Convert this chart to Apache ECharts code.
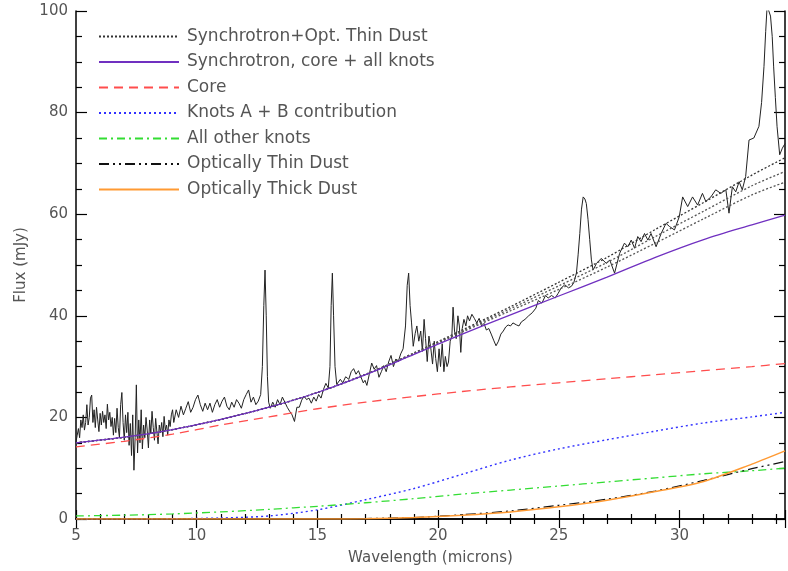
<!DOCTYPE html>
<html><head><meta charset="utf-8">
<script src="https://cdn.jsdelivr.net/npm/echarts@6/dist/echarts.min.js"></script>
<style>html,body{margin:0;padding:0;background:#fff}#c{width:788px;height:571px}</style>
</head><body><div id="c"></div>
<script>
// ---- data ----
const xTicks = [5, 10, 15, 20, 25, 30];
const yTicks = [0, 20, 40, 60, 80, 100];
const legendNames = ['Synchrotron+Opt. Thin Dust', 'Synchrotron, core + all knots', 'Core',
  'Knots A + B contribution', 'All other knots', 'Optically Thin Dust', 'Optically Thick Dust'];

const modelWl      = [5, 7, 9, 11, 13, 15, 17, 19, 21, 23, 25, 27, 29, 31, 33, 34.37];
const syncThinA    = [15.0, 16.1, 17.6, 19.6, 22.0, 24.9, 28.5, 32.7, 37.2, 41.8, 46.6, 51.5, 57.0, 62.3, 67.7, 71.1];
const syncThinB    = [15.0, 16.1, 17.6, 19.6, 22.0, 24.9, 28.5, 32.6, 37.0, 41.4, 45.9, 50.5, 55.6, 60.6, 65.6, 68.4];
const syncThinC    = [15.0, 16.1, 17.6, 19.6, 22.0, 24.9, 28.4, 32.5, 36.8, 41.0, 45.2, 49.6, 54.3, 59.1, 63.8, 66.3];
const syncAll      = [15.0, 16.1, 17.6, 19.6, 22.0, 24.9, 28.4, 32.4, 36.4, 40.2, 43.9, 47.6, 51.5, 55.0, 57.9, 59.8];
const core         = [14.2, 15.3, 16.7, 18.5, 20.1, 21.7, 23.0, 24.1, 25.1, 26.0, 26.8, 27.6, 28.4, 29.2, 30.0, 30.6];
const knotsAB      = [0.0, 0.0, 0.05, 0.2, 0.6, 1.8, 3.8, 6.0, 8.8, 11.6, 13.8, 15.6, 17.3, 18.9, 20.1, 21.0];
const otherKnots   = [0.6, 0.75, 1.0, 1.4, 1.9, 2.5, 3.2, 4.0, 4.9, 5.7, 6.5, 7.3, 8.1, 8.9, 9.5, 10.0];
const thinDust     = [0.0, 0.0, 0.0, 0.0, 0.0, 0.0, 0.1, 0.3, 0.85, 1.6, 2.7, 3.9, 5.5, 7.6, 9.9, 11.3];
const thickDust    = [0.0, 0.0, 0.0, 0.0, 0.0, 0.0, 0.05, 0.3, 0.75, 1.4, 2.4, 3.7, 5.4, 7.4, 10.8, 13.4];

const spectrumSL = [
 [5.00,15.2],[5.05,16.5],[5.10,17.8],[5.15,16.0],[5.20,19.5],[5.25,18.0],[5.30,20.5],[5.35,17.5],[5.40,19.0],[5.45,22.5],
 [5.50,18.5],[5.55,20.0],[5.60,23.8],[5.65,24.4],[5.70,19.0],[5.75,21.5],[5.80,18.0],[5.85,22.0],[5.90,19.5],[5.95,17.2],
 [6.00,20.8],[6.05,18.5],[6.10,21.2],[6.15,19.0],[6.20,20.5],[6.25,17.8],[6.30,22.6],[6.35,19.5],[6.40,21.0],[6.45,18.2],
 [6.50,20.0],[6.55,16.5],[6.60,19.8],[6.65,17.0],[6.70,21.8],[6.75,18.0],[6.80,16.0],[6.85,22.5],[6.90,24.9],[6.95,19.0],
 [7.00,15.5],[7.05,20.5],[7.10,17.0],[7.15,21.0],[7.20,14.5],[7.25,18.8],[7.30,12.5],[7.35,20.5],[7.40,9.6],[7.45,16.0],
 [7.50,26.4],[7.55,13.0],[7.60,19.5],[7.65,15.0],[7.70,21.5],[7.75,13.8],[7.80,18.5],[7.85,16.0],[7.90,20.0],[7.95,17.5],
 [8.00,14.0],[8.05,19.5],[8.10,16.8],[8.15,21.2],[8.20,18.0],[8.25,15.5],[8.30,19.8],[8.35,17.2],[8.40,14.8],[8.45,18.5],
 [8.50,17.0],[8.55,19.0],[8.60,16.2],[8.65,20.2],[8.70,17.5],[8.75,18.5],[8.80,16.5],[8.85,19.5],[8.90,18.2],[8.95,20.5],
 [9.00,21.5],[9.05,19.0],[9.15,21.5],[9.25,20.0],[9.35,22.2],[9.45,20.5],[9.55,21.8],[9.65,23.1],[9.75,21.0],[9.85,22.0],
 [9.95,23.5],[10.05,24.4],[10.15,22.5],[10.25,21.2],[10.35,22.8],[10.45,21.5],[10.55,22.8],[10.65,21.0],[10.75,22.5],[10.85,23.5],
 [10.95,22.0],[11.05,23.2],[11.15,24.0],[11.25,22.2],[11.35,21.5],[11.45,23.0],[11.55,22.0],[11.65,23.5],[11.75,22.8],[11.85,21.8],
 [11.95,23.5],[12.05,24.5],[12.15,25.4],[12.25,23.0],[12.35,24.0],[12.45,22.5],[12.55,23.2],[12.65,24.5],[12.72,30.0],[12.78,42.0],
 [12.83,49.0],[12.88,40.0],[12.93,28.0],[12.98,23.0],[13.05,21.8],[13.15,23.0],[13.25,22.0],[13.35,23.5],[13.45,22.5],[13.55,24.0],
 [13.65,23.0],[13.75,22.0],[13.85,21.2],[13.95,20.5],[14.05,19.2],[14.15,22.0]
];
const spectrumLL = [
 [14.25,22.0],[14.35,23.4],[14.45,24.2],[14.55,23.5],[14.65,23.8],[14.75,22.8],[14.85,24.0],[14.95,23.2],[15.05,24.5],[15.15,23.8],
 [15.25,25.5],[15.35,26.7],[15.45,25.8],[15.52,30.0],[15.57,42.0],[15.62,48.4],[15.67,40.0],[15.73,30.0],[15.80,26.5],[15.87,26.7],
 [15.95,27.5],[16.05,26.8],[16.17,28.0],[16.30,27.5],[16.40,29.0],[16.50,29.6],[16.60,28.5],[16.70,29.2],[16.80,28.0],[16.90,26.8],
 [16.97,27.3],[17.05,26.3],[17.15,28.5],[17.25,30.7],[17.35,29.5],[17.45,30.2],[17.55,27.9],[17.65,29.0],[17.75,30.2],[17.85,29.0],
 [17.95,30.9],[18.05,32.2],[18.15,30.0],[18.25,31.5],[18.35,31.0],[18.45,32.5],[18.55,33.5],[18.65,38.0],[18.72,46.0],[18.78,48.4],
 [18.84,42.0],[18.90,38.6],[18.97,34.0],[19.05,36.5],[19.12,38.0],[19.20,35.0],[19.28,37.0],[19.35,33.0],[19.42,39.3],[19.48,35.5],
 [19.55,31.0],[19.62,36.0],[19.70,33.5],[19.77,30.5],[19.84,35.0],[19.90,31.6],[19.97,29.0],[20.04,33.5],[20.10,30.0],[20.17,34.5],
 [20.24,29.0],[20.30,32.0],[20.37,30.0],[20.43,30.9],[20.50,35.0],[20.57,36.1],[20.62,41.7],[20.68,37.0],[20.75,35.5],[20.82,40.0],
 [20.88,38.0],[20.94,32.8],[21.00,37.5],[21.07,39.3],[21.15,38.0],[21.22,40.0],[21.30,39.0],[21.40,40.3],[21.50,39.5],[21.60,38.6],
 [21.70,39.5],[21.80,38.0],[21.90,38.5],[22.00,37.2],[22.10,37.5],[22.20,36.4],[22.30,35.2],[22.40,34.1],[22.50,35.0],[22.60,36.4],
 [22.70,37.0],[22.80,37.8],[22.90,38.2],[23.00,38.0],[23.10,38.6],[23.25,38.2],[23.35,38.0],[23.45,38.8],[23.60,39.3],[23.75,40.0],
 [23.90,40.6],[24.05,41.5],[24.15,43.0],[24.30,42.5],[24.45,44.0],[24.56,43.5],[24.70,44.0],[24.85,43.5],[24.97,44.4],[25.10,45.5],
 [25.25,46.1],[25.40,45.5],[25.52,45.8],[25.62,46.5],[25.73,48.4],[25.80,52.0],[25.87,56.2],[25.94,61.0],[26.01,63.4],[26.08,63.0],
 [26.14,62.1],[26.21,59.0],[26.28,55.0],[26.35,51.0],[26.42,49.0],[26.56,50.3],[26.76,51.3],[26.97,50.3],[27.11,51.0],[27.31,48.4],
 [27.52,52.3],[27.72,54.3],[27.86,53.6],[28.00,54.9],[28.14,53.3],[28.27,55.6],[28.41,54.6],[28.55,56.2],[28.69,54.9],[28.82,56.2],
 [29.03,53.6],[29.24,56.2],[29.44,58.2],[29.58,57.6],[29.79,56.9],[29.99,59.5],[30.13,63.4],[30.34,61.5],[30.54,63.4],[30.75,61.8],
 [30.95,64.1],[31.09,62.5],[31.30,63.4],[31.50,64.8],[31.71,64.1],[31.92,64.8],[32.05,60.2],[32.19,65.4],[32.33,64.4],[32.47,66.4],
 [32.60,64.8],[32.74,67.4],[32.88,74.6],[33.08,75.0],[33.29,77.3],[33.40,82.0],[33.50,89.1],[33.57,96.0],[33.63,101.0],[33.70,101.0],
 [33.77,99.0],[33.84,95.0],[33.90,89.0],[33.97,83.0],[34.04,77.3],[34.15,71.7],[34.26,73.0],[34.37,73.9]
];

// ---- chart ----
const textColor = '#555';
const font = 'DejaVu Sans';
const pairs = arr => modelWl.map((w, i) => [w, arr[i]]);

function lineSeries(name, arr, color, type, width) {
  return {
    name: name, type: 'line', data: pairs(arr), symbol: 'none', smooth: 0.3,
    clip: true, lineStyle: { color: color, width: width || 1.2, type: type }, itemStyle: { color: color },
    emphasis: { disabled: true }, z: 3
  };
}

const chart = echarts.init(document.getElementById('c'), null, { renderer: 'canvas' });
const axisCommon = {
  axisLine: { show: true, lineStyle: { color: '#000', width: 1.5 } },
  splitLine: { show: false },
};
chart.setOption({
  animation: false,
  backgroundColor: '#fff',
  grid: { left: 76, right: 0, top: 11, bottom: 52, containLabel: false },
  legend: {
    show: true, orient: 'vertical', left: 93, top: 23,
    data: legendNames, itemWidth: 80, itemHeight: 14, itemGap: 8.5,
    selectedMode: false,
    itemStyle: { opacity: 0 },
    textStyle: { color: textColor, fontFamily: font, fontSize: 17, lineHeight: 16, padding: [0, 0, 0, 3] }
  },
  xAxis: [{
    type: 'value', min: 5, max: 34.37, interval: 5, position: 'bottom',
    ...axisCommon,
    axisTick: { show: true, inside: true, length: 9, lineStyle: { color: '#000', width: 1.2 } },
    minorTick: { show: true, splitNumber: 5, length: 5, lineStyle: { color: '#000', width: 1.2 } },
    axisLabel: { color: textColor, fontFamily: font, fontSize: 15, margin: 10,
      formatter: v => xTicks.indexOf(Math.round(v * 100) / 100) >= 0 ? String(v) : '' },
    name: 'Wavelength (microns)', nameLocation: 'middle', nameGap: 32,
    nameTextStyle: { color: textColor, fontFamily: font, fontSize: 15 }
  }, {
    type: 'value', min: 5, max: 34.37, interval: 5, position: 'top',
    ...axisCommon,
    axisTick: { show: true, inside: true, length: 9, lineStyle: { color: '#000', width: 1.2 } },
    minorTick: { show: true, splitNumber: 5, length: 5, lineStyle: { color: '#000', width: 1.2 } },
    axisLabel: { show: false }
  }],
  yAxis: [{
    type: 'value', min: 0, max: 100, interval: 20, position: 'left',
    ...axisCommon,
    axisTick: { show: true, inside: true, length: 11, lineStyle: { color: '#000', width: 1.2 } },
    minorTick: { show: true, splitNumber: 4, length: 6, lineStyle: { color: '#000', width: 1.2 } },
    axisLabel: { color: textColor, fontFamily: font, fontSize: 15, margin: 8,
      formatter: v => yTicks.indexOf(v) >= 0 ? String(v) : '' },
    name: 'Flux (mJy)', nameLocation: 'middle', nameGap: 45, nameRotate: 90,
    nameTextStyle: { color: textColor, fontFamily: font, fontSize: 15 }
  }, {
    type: 'value', min: 0, max: 100, interval: 20, position: 'right',
    ...axisCommon,
    axisTick: { show: true, inside: true, length: 11, lineStyle: { color: '#000', width: 1.2 } },
    minorTick: { show: true, splitNumber: 4, length: 6, lineStyle: { color: '#000', width: 1.2 } },
    axisLabel: { show: false }
  }],
  series: [
    { name: 'spectrum', type: 'line', data: spectrumSL.concat(spectrumLL), symbol: 'none', clip: true,
      lineStyle: { color: '#222', width: 1 }, emphasis: { disabled: true }, z: 2 },
    lineSeries(legendNames[0], syncThinA, '#333', [2, 2], 1.3),
    lineSeries('Synchrotron+Dust B', syncThinB, '#555', [2, 2], 1.3),
    lineSeries('Synchrotron+Dust C', syncThinC, '#555', [2, 2], 1.3),
    lineSeries(legendNames[1], syncAll, '#7030c0', 'solid', 1.3),
    lineSeries(legendNames[2], core, '#ff4d4d', [9, 6], 1.3),
    lineSeries(legendNames[3], knotsAB, '#3030ff', [2, 3], 1.4),
    lineSeries(legendNames[4], otherKnots, '#33dd33', [8, 4, 2, 4], 1.3),
    lineSeries(legendNames[5], thinDust, '#111', [10, 4, 2, 4, 2, 4], 1.2),
    lineSeries(legendNames[6], thickDust, '#ff9a33', 'solid', 1.5)
  ]
});
</script>
</body></html>
